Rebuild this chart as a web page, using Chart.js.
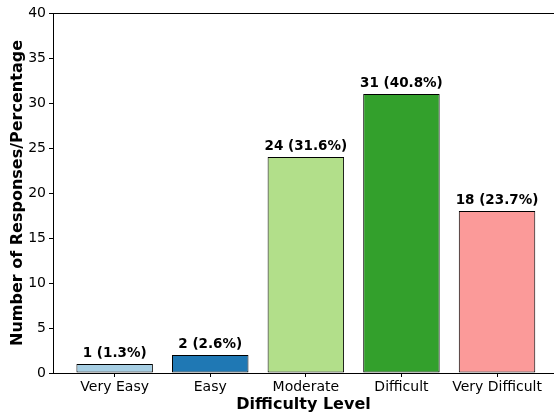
<!DOCTYPE html>
<html>
<head>
<meta charset="utf-8">
<script src="https://cdn.jsdelivr.net/npm/chart.js@4"></script>
<style>
  html, body { margin: 0; padding: 0; background: #fff; }
  #wrap { width: 554px; height: 414px; }
</style>
</head>
<body>
<div id="wrap"><canvas id="chart" width="554" height="414"></canvas></div>
<script>
// difficulty survey data
const categories = ['Very Easy', 'Easy', 'Moderate', 'Difficult', 'Very Difficult'];
const responses = [1, 2, 24, 31, 18];
const barColors = ['#a6cee3', '#1f78b4', '#b2df8a', '#33a02c', '#fb9a99'];
const yTicks = [0, 5, 10, 15, 20, 25, 30, 35, 40];

const total = responses.reduce((a, b) => a + b, 0);
const FONT = "'DejaVu Sans', sans-serif";

// value labels above bars + top spine
const barLabels = {
  id: 'barLabels',
  afterDatasetsDraw(chart) {
    const ctx = chart.ctx;
    const meta = chart.getDatasetMeta(0);
    ctx.save();
    ctx.font = 'bold 13.5px ' + FONT;
    ctx.fillStyle = '#000';
    ctx.textAlign = 'center';
    ctx.textBaseline = 'bottom';
    meta.data.forEach((bar, i) => {
      const pct = (responses[i] / total * 100).toFixed(1);
      ctx.fillText(responses[i] + ' (' + pct + '%)', bar.x, bar.y - 4);
    });
    const a = chart.chartArea;
    ctx.strokeStyle = '#000';
    ctx.lineWidth = 1;
    ctx.beginPath();
    ctx.moveTo(a.left, a.top + 0.5);
    ctx.lineTo(a.right + 2, a.top + 0.5);
    ctx.stroke();
    ctx.restore();
  }
};

new Chart(document.getElementById('chart'), {
  type: 'bar',
  data: {
    datasets: [{
      data: responses.map((v, i) => ({ x: i, y: v })),
      backgroundColor: barColors,
      borderColor: '#000',
      borderWidth: 1,
      borderSkipped: false,
      barPercentage: 0.8,
      categoryPercentage: 1.0
    }]
  },
  options: {
    responsive: false,
    animation: false,
    layout: { padding: { top: 13, right: 0, left: 0, bottom: 0 } },
    plugins: { legend: { display: false }, tooltip: { enabled: false } },
    scales: {
      x: {
        type: 'linear',
        offset: false,
        min: -0.645,
        max: 4.596,
        afterBuildTicks(scale) { scale.ticks = categories.map((c, i) => ({ value: i })); },
        afterFit(scale) { scale.height = 41; },
        ticks: {
          callback: (v) => categories[v],
          color: '#000',
          font: { family: FONT, size: 14 },
          padding: 2,
          maxRotation: 0,
          autoSkip: false
        },
        grid: { drawOnChartArea: false, offset: false, tickLength: 4, color: '#000' },
        border: { color: '#000', width: 1 },
        title: {
          display: true,
          text: 'Difficulty Level',
          color: '#000',
          font: { family: FONT, size: 16, weight: 'bold' },
          padding: { top: 0, bottom: 0 }
        }
      },
      y: {
        min: 0,
        max: 40,
        afterBuildTicks(scale) { scale.ticks = yTicks.map(v => ({ value: v })); },
        afterFit(scale) { scale.width = 53; },
        ticks: {
          color: '#000',
          font: { family: FONT, size: 14 },
          padding: 3
        },
        grid: { drawOnChartArea: false, tickLength: 4, color: '#000' },
        border: { color: '#000', width: 1 },
        title: {
          display: true,
          text: 'Number of Responses/Percentage',
          color: '#000',
          font: { family: FONT, size: 16, weight: 'bold' },
          padding: { top: 8, bottom: 0 }
        }
      }
    }
  },
  plugins: [barLabels]
});
</script>
</body>
</html>
